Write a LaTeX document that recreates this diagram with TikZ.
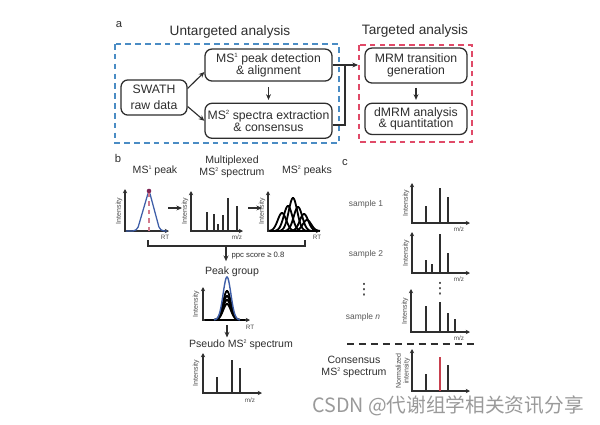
\documentclass[tikz,border=0pt]{standalone}
\usepackage{fontspec}
\setmainfont{Liberation Sans}
\newfontfamily\cjkfont{Noto Sans CJK SC}
\newfontfamily\symfont{DejaVu Sans}
\usepackage{tikz}
\usetikzlibrary{arrows.meta, positioning, calc}
\definecolor{Ink}     {HTML}{2E2E2E}
\definecolor{BoxBlue} {HTML}{4A8CC4}
\definecolor{BoxRed}  {HTML}{E04A68}
\definecolor{PeakBlue}{HTML}{3E5EA8}
\definecolor{PeakRed} {HTML}{D27A8C}
\definecolor{Plum}    {HTML}{7E2454}
\definecolor{BarRed}  {HTML}{C8404E}
\definecolor{Mark}    {HTML}{9A9A9A}
\newcommand{\supr}[1]{\raisebox{0.8ex}{\scalebox{0.5}{#1}}}
\tikzset{
  box/.style={draw=Ink, rounded corners=5pt, line width=0.9pt, align=center,
              inner sep=1pt, text=Ink, font=\fontsize{8.7}{8.2}\selectfont},
  arr/.style={-{Stealth[length=4pt,width=3.5pt]}, line width=0.8pt, draw=Ink}
}

\begin{document}
\begin{tikzpicture}[
  x=0.025cm, y=-0.025cm,
  title/.style={font=\fontsize{9.7}{11}\selectfont, text=Ink, inner sep=0pt},
  tag/.style={font=\fontsize{8}{9}\selectfont, text=Ink, inner sep=0pt},
  lbl/.style={font=\fontsize{7.5}{8.5}\selectfont, text=Ink, align=center, inner sep=0pt},
  smp/.style={font=\fontsize{6}{7}\selectfont, text=black!65, inner sep=0pt},
  ylab/.style={font=\fontsize{5}{5.5}\selectfont, text=black!70, rotate=90,
               inner sep=0pt, align=center},
  xlab/.style={font=\fontsize{4.5}{5}\selectfont, text=black!70, inner sep=0pt},
  axs/.style={{Stealth[length=3pt,width=3pt]}-{Stealth[length=3pt,width=3pt]},
              line width=0.75pt, draw=Ink},
  bar/.style={line width=1pt, draw=Ink},
  pk/.style={line width=1.3pt, draw=black},
  dbox/.style={line width=0.9pt, dash pattern=on 4pt off 3pt},
  dots/.style={font=\symfont\fontsize{11}{11}\selectfont, text=Ink, inner sep=0pt}
]
  \fill[white] (0,0) rectangle (600,424);
  \useasboundingbox (0,0) rectangle (600,424);

  % a: workflow
  \node[tag]   (TagA) at (119,25) {a};
  \node[title] (UnT)  at (230,32) {Untargeted analysis};
  \node[title] (Tar)  at (415,31) {Targeted analysis};
  \draw[dbox,draw=BoxBlue] (115,44) rectangle (339,143);
  \draw[dbox,draw=BoxRed]  (359,45) rectangle (472,142);

  \node[box,minimum width=1.65cm,minimum height=0.88cm,
        font=\fontsize{8.7}{11}\selectfont] (Swath) at (154,97.5) {SWATH\\raw data};
  \node[box,minimum width=3.175cm,minimum height=0.8cm] (MS1) at (268.5,65)
        {MS\supr{1} peak detection\\\& alignment};
  \node[box,minimum width=3.175cm,minimum height=0.875cm,below=0.525cm of MS1] (MS2)
        {MS\supr{2} spectra extraction\\\& consensus};
  \node[box,minimum width=2.55cm,minimum height=0.875cm] (MRM) at (416,65.5)
        {MRM transition\\generation};
  \node[box,minimum width=2.55cm,minimum height=0.78cm,below=0.475cm of MRM] (DMRM)
        {dMRM analysis\\\& quantitation};

  \draw[arr](Swath.15) -- ([yshift=-5pt]MS1.west);
  \draw[arr](Swath.-15) -- (MS2.west);
  \draw[arr,shorten <=4pt,shorten >=2pt](MS1) -- (MS2);
  \draw[arr,shorten <=3pt,shorten >=2pt](MRM) -- (DMRM);
  \coordinate (Jn)    at (345,65);
  \coordinate (TgtIn) at (358,65);
  \draw[arr](MS1.east) -- (TgtIn);
  \draw[line width=0.8pt,draw=Ink]([yshift=-3pt]MS2.east) -| (Jn);

  % b: peak picking
  \node[tag] (TagB)  at (118,158) {b};
  \node[lbl] (CapB1) at (155,171) {MS\supr{1} peak};
  \node[lbl] (CapB2) at (232,167) {Multiplexed\\MS\supr{2} spectrum};
  \node[lbl] (CapB3) at (307,171) {MS\supr{2} peaks};

  \begin{scope}[shift={(125,231)}]
    \draw[axs] (0,-42) -- (0,0) -- (44,0);
    \draw[PeakBlue,line width=0.9pt,rounded corners=3pt]
      (1,0) -- (12,0) -- (24,-41) -- (35,0) -- (42,0);
    \draw[PeakRed,dashed,line width=1pt] (24,-38) -- (24,0);
    \fill[Plum] (24,-40) circle (2.3);
    \node[ylab] (YB1) at (-6,-20) {Intensity};
    \node[xlab] (XB1) at (40,6) {RT};
  \end{scope}

  \begin{scope}[shift={(191,231)}]
    \draw[axs] (0,-40) -- (0,0) -- (52,0);
    \foreach \px/\hgt in {16/19, 23/17, 27/7, 32/16, 37/33, 46/25}
      \draw[bar] (\px,0) -- (\px,-\hgt);
    \node[ylab] (YB2) at (-6,-20) {Intensity};
    \node[xlab] (XB2) at (46,6) {m/z};
  \end{scope}

  \begin{scope}[shift={(268,231)}]
    \draw[axs] (0,-40) -- (0,0) -- (52,0);
    \draw[pk] (2,0) -- (50,0);
    \foreach \cen/\hgt in {14/18, 20/25, 25/33, 30/24, 36/17, 39/11}
      \draw[pk] plot[domain=-13:13,samples=40] ({\cen+\x},{-\hgt*exp(-(\x/6)^2)});
    \node[ylab] (YB3) at (-6,-20) {Intensity};
    \node[xlab] (XB3) at (49,6) {RT};
  \end{scope}

  \coordinate (ArL1) at (168,208);
  \coordinate (ArR1) at (182,208);
  \coordinate (ArL2) at (248,208);
  \coordinate (ArR2) at (262,208);
  \draw[arr](ArL1) -- (ArR1);
  \draw[arr](ArL2) -- (ArR2);

  \draw[line width=0.8pt,draw=Ink] (148,240) -- (148,246) -- (305,246) -- (305,240);
  \coordinate (BrMid) at (226,246);
  \node[font=\fontsize{5.5}{6}\selectfont,text=Ink,inner sep=0pt] (Ppc) at (258,256)
    {ppc score ≥ 0.8};
  \node[lbl] (PG) at (232,272) {Peak group};
  \draw[arr,shorten >=4pt](BrMid) -- (BrMid |- PG.north);

  \begin{scope}[shift={(203,320)}]
    \draw[axs] (0,-33) -- (0,0) -- (47,0);
    \draw[pk] (2,0) -- (42,0);
    \foreach \hgt in {16, 20, 24, 29}
      \draw[pk] plot[domain=-13:13,samples=40] ({24+\x},{-\hgt*exp(-(\x/5.5)^2)});
    \draw[PeakBlue,line width=1pt] plot[domain=-13:13,samples=40] ({24+\x},{-43*exp(-(\x/5.5)^2)});
    \node[ylab] (YB4) at (-7,-16) {Intensity};
    \node[xlab] (XB4) at (47,7) {RT};
  \end{scope}

  \coordinate (B4Foot) at (227,325);
  \node[lbl] (PS) at (241,345) {Pseudo MS\supr{2} spectrum};
  \draw[arr,shorten >=1.5pt](B4Foot) -- (B4Foot |- PS.north);

  \begin{scope}[shift={(203,393)}]
    \draw[axs] (0,-40) -- (0,0) -- (59,0);
    \foreach \px/\hgt in {14/16, 29/33, 37/25}
      \draw[bar] (\px,0) -- (\px,-\hgt);
    \node[ylab] (YB5) at (-7,-20) {Intensity};
    \node[xlab] (XB5) at (47,7) {m/z};
  \end{scope}

  % c: consensus spectrum
  \node[tag] (TagC) at (345,163) {c};
  \node[smp] (S1) at (366,204) {sample 1};
  \node[smp] (S2) at (366,254) {sample 2};
  \node[smp] (SN) at (363,317) {sample \textit{n}};
  \node[dots] (VD1) at (364,290) {⋮};
  \node[dots] (VD2) at (440,289) {⋮};

  \begin{scope}[shift={(412,223)}]
    \draw[axs] (0,-40) -- (0,0) -- (58,0);
    \foreach \px/\hgt in {14/17, 28/35, 36/26}
      \draw[bar] (\px,0) -- (\px,-\hgt);
    \node[ylab] (YC1) at (-6,-20) {Intensity};
    \node[xlab] (XC1) at (47,6) {m/z};
  \end{scope}

  \begin{scope}[shift={(412,273)}]
    \draw[axs] (0,-41) -- (0,0) -- (58,0);
    \foreach \px/\hgt in {14/13, 20/9, 28/39, 36/20}
      \draw[bar] (\px,0) -- (\px,-\hgt);
    \node[ylab] (YC2) at (-6,-20) {Intensity};
    \node[xlab] (XC2) at (47,6) {m/z};
  \end{scope}

  \begin{scope}[shift={(411,332)}]
    \draw[axs] (0,-43) -- (0,0) -- (59,0);
    \foreach \px/\hgt in {15/26, 29/30, 37/19, 44/13}
      \draw[bar] (\px,0) -- (\px,-\hgt);
    \node[ylab] (YCN) at (-6,-21) {Intensity};
    \node[xlab] (XCN) at (48,6) {m/z};
  \end{scope}

  \draw[line width=1pt,draw=Ink,dash pattern=on 5pt off 3.5pt] (347,344) -- (477,344);

  \node[lbl] (Cons) at (354,367) {Consensus\\MS\supr{2} spectrum};
  \begin{scope}[shift={(412,391)}]
    \draw[axs] (0,-42) -- (0,0) -- (58,0);
    \foreach \px/\hgt in {14/17, 36/26}
      \draw[bar] (\px,0) -- (\px,-\hgt);
    \draw[bar,draw=BarRed] (28,0) -- (28,-34);
    \node[ylab] (YCC) at (-9,-20) {Normalized\\intensity};
  \end{scope}

  \node[font=\cjkfont\fontsize{14}{15}\selectfont,text=Mark,inner sep=0pt] (WM)
    at (448,406) {CSDN @代谢组学相关资讯分享};
\end{tikzpicture}
\end{document}
